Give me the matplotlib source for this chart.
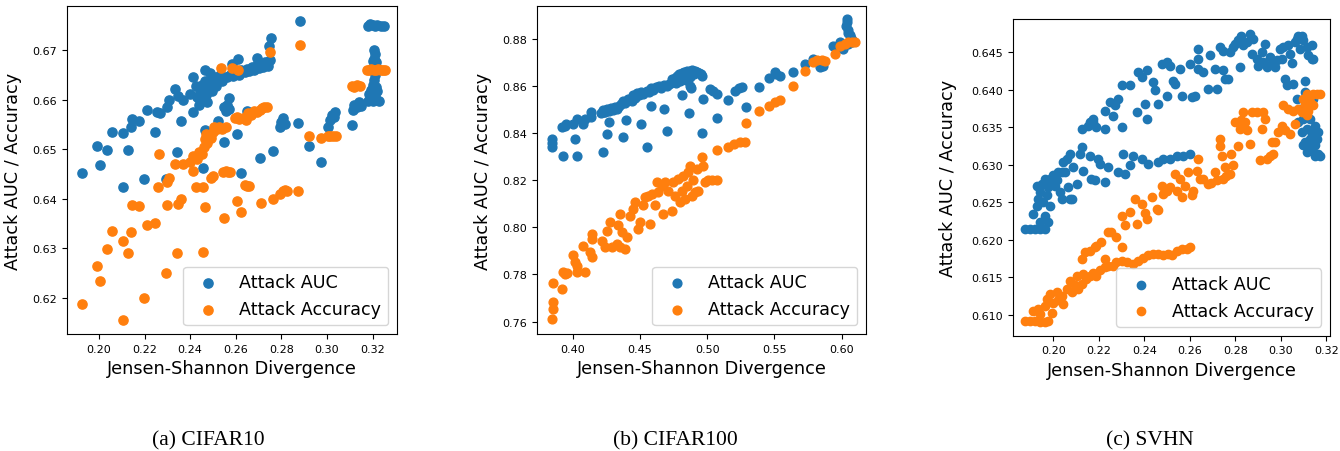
import numpy as np
import matplotlib.pyplot as plt
from matplotlib.ticker import FormatStrFormatter

# =========================================
# DATA
# =========================================
# (a) CIFAR10
cifar10_js_auc = [
    0.1924, 0.1991, 0.2006, 0.2034, 0.2056, 0.2104, 0.2107, 0.2126, 0.2139, 0.2145,
    0.2177, 0.2197, 0.2209, 0.2246, 0.2256, 0.2266, 0.2294, 0.2297, 0.2306, 0.2332,
    0.2341, 0.2348, 0.2361, 0.2370, 0.2398, 0.2411, 0.2414, 0.2425, 0.2430, 0.2440,
    0.2445, 0.2450, 0.2455, 0.2460, 0.2465, 0.2470, 0.2475, 0.2480, 0.2490, 0.2495,
    0.2500, 0.2505, 0.2515, 0.2520, 0.2530, 0.2540, 0.2550, 0.2455, 0.2466, 0.2466,
    0.2487, 0.2523, 0.2550, 0.2548, 0.2555, 0.2562, 0.2570, 0.2572, 0.2582, 0.2607,
    0.2611, 0.2623, 0.2648, 0.2560, 0.2575, 0.2590, 0.2600, 0.2615, 0.2625, 0.2640,
    0.2650, 0.2660, 0.2670, 0.2680, 0.2690, 0.2700, 0.2710, 0.2720, 0.2730, 0.2740,
    0.2750, 0.2692, 0.2707, 0.2744, 0.2753, 0.2762, 0.2795, 0.2800, 0.2808, 0.2815,
    0.2871, 0.2881, 0.2920, 0.2972, 0.3006, 0.3015, 0.3022, 0.3030, 0.3035, 0.3111,
    0.3115, 0.3120, 0.3130, 0.3140, 0.3148, 0.3180, 0.3190, 0.3200, 0.3210, 0.3220,
    0.3235, 0.3250, 0.3205, 0.3210, 0.3208, 0.3200, 0.3215, 0.3205, 0.3210, 0.3208,
    0.3200, 0.3215, 0.3195, 0.3220, 0.3185, 0.3210, 0.3180, 0.3200, 0.3215, 0.3230,
]
cifar10_auc = [
    0.6451, 0.6507, 0.6469, 0.6498, 0.6535, 0.6424, 0.6533, 0.6499, 0.6545, 0.6561,
    0.6556, 0.6439, 0.6580, 0.6534, 0.6575, 0.6574, 0.6439, 0.6586, 0.6599, 0.6621,
    0.6495, 0.6608, 0.6557, 0.6599, 0.6611, 0.6575, 0.6645, 0.6627, 0.6605, 0.6590,
    0.6615, 0.6630, 0.6600, 0.6620, 0.6638, 0.6610, 0.6595, 0.6625, 0.6640, 0.6618,
    0.6632, 0.6645, 0.6628, 0.6640, 0.6650, 0.6638, 0.6645, 0.6463, 0.6539, 0.6660,
    0.6654, 0.6556, 0.6515, 0.6585, 0.6578, 0.6590, 0.6582, 0.6603, 0.6672, 0.6530,
    0.6682, 0.6451, 0.6578, 0.6645, 0.6650, 0.6648, 0.6655, 0.6650, 0.6660, 0.6655,
    0.6662, 0.6658, 0.6665, 0.6660, 0.6668, 0.6664, 0.6670, 0.6665, 0.6675, 0.6668,
    0.6680, 0.6685, 0.6482, 0.6709, 0.6724, 0.6497, 0.6545, 0.6555, 0.6562, 0.6550,
    0.6553, 0.6759, 0.6507, 0.6475, 0.6544, 0.6558, 0.6570, 0.6565, 0.6575, 0.6549,
    0.6580, 0.6590, 0.6585, 0.6595, 0.6588, 0.6749, 0.6752, 0.6750, 0.6749, 0.6751,
    0.6749, 0.6749, 0.6700, 0.6692, 0.6683, 0.6678, 0.6675, 0.6665, 0.6650, 0.6640,
    0.6630, 0.6625, 0.6620, 0.6618, 0.6612, 0.6608, 0.6598, 0.6597, 0.6600, 0.6598,
]
cifar10_js_acc = [
    0.1924, 0.1991, 0.2006, 0.2034, 0.2056, 0.2104, 0.2107, 0.2126, 0.2139, 0.2145,
    0.2177, 0.2197, 0.2209, 0.2246, 0.2258, 0.2265, 0.2294, 0.2299, 0.2306, 0.2300,
    0.2332, 0.2341, 0.2348, 0.2359, 0.2370, 0.2398, 0.2411, 0.2414, 0.2425, 0.2455,
    0.2458, 0.2466, 0.2430, 0.2440, 0.2450, 0.2460, 0.2465, 0.2475, 0.2480, 0.2490,
    0.2470, 0.2500, 0.2490, 0.2500, 0.2505, 0.2516, 0.2525, 0.2540, 0.2555, 0.2537,
    0.2545, 0.2555, 0.2565, 0.2575, 0.2550, 0.2582, 0.2595, 0.2605, 0.2615, 0.2630,
    0.2645, 0.2604, 0.2611, 0.2623, 0.2640, 0.2650, 0.2660, 0.2655, 0.2665, 0.2680,
    0.2695, 0.2705, 0.2715, 0.2725, 0.2735, 0.2711, 0.2748, 0.2762, 0.2795, 0.2805,
    0.2815, 0.2825, 0.2871, 0.2881, 0.2920, 0.2972, 0.3006, 0.3015, 0.3025, 0.3040,
    0.3110, 0.3120, 0.3130, 0.3145, 0.3175, 0.3185, 0.3195, 0.3205, 0.3215, 0.3225,
    0.3235, 0.3245, 0.3255,
]
cifar10_acc = [
    0.6187, 0.6264, 0.6234, 0.6298, 0.6335, 0.6314, 0.6155, 0.6291, 0.6332, 0.6387,
    0.6386, 0.6199, 0.6346, 0.6351, 0.6424, 0.6491, 0.6250, 0.6434, 0.6442, 0.6387,
    0.6471, 0.6291, 0.6390, 0.6400, 0.6471, 0.6475, 0.6456, 0.6487, 0.6424, 0.6292,
    0.6424, 0.6383, 0.6480, 0.6495, 0.6490, 0.6505, 0.6520, 0.6512, 0.6525, 0.6522,
    0.6530, 0.6535, 0.6442, 0.6445, 0.6545, 0.6540, 0.6545, 0.6540, 0.6545, 0.6663,
    0.6453, 0.6455, 0.6454, 0.6453, 0.6362, 0.6663, 0.6562, 0.6565, 0.6560, 0.6563,
    0.6558, 0.6396, 0.6660, 0.6374, 0.6427, 0.6425, 0.6426, 0.6573, 0.6570, 0.6578,
    0.6575, 0.6580, 0.6583, 0.6585, 0.6586, 0.6392, 0.6697, 0.6399, 0.6410, 0.6416,
    0.6418, 0.6415, 0.6416, 0.6710, 0.6526, 0.6522, 0.6527, 0.6526, 0.6527, 0.6527,
    0.6628, 0.6625, 0.6630, 0.6627, 0.6660, 0.6660, 0.6661, 0.6660, 0.6660, 0.6661,
    0.6660, 0.6660, 0.6660,
]

# (b) CIFAR100
cifar100_js_auc = [
    0.3844, 0.3846, 0.3845, 0.3918, 0.3931, 0.3943, 0.3950, 0.4005, 0.4017, 0.4030,
    0.4035, 0.4080, 0.4090, 0.4140, 0.4140, 0.4228, 0.4253, 0.4270, 0.4233, 0.4210,
    0.4225, 0.4240, 0.4255, 0.4270, 0.4285, 0.4300, 0.4315, 0.4330, 0.4345, 0.4360,
    0.4375, 0.4390, 0.4377, 0.4396, 0.4410, 0.4440, 0.4450, 0.4460, 0.4475, 0.4490,
    0.4505, 0.4520, 0.4508, 0.4550, 0.4582, 0.4680, 0.4700, 0.4550, 0.4570, 0.4585,
    0.4600, 0.4620, 0.4640, 0.4660, 0.4680, 0.4700, 0.4715, 0.4730, 0.4740, 0.4750,
    0.4760, 0.4770, 0.4775, 0.4785, 0.4790, 0.4800, 0.4805, 0.4815, 0.4820, 0.4830,
    0.4835, 0.4845, 0.4850, 0.4860, 0.4870, 0.4875, 0.4885, 0.4890, 0.4900, 0.4910,
    0.4925, 0.4940, 0.4955, 0.4965, 0.4870, 0.4880, 0.4810, 0.4865, 0.4960, 0.4971,
    0.5020, 0.5045, 0.5070, 0.5071, 0.5157, 0.5207, 0.5235, 0.5256, 0.5286, 0.5383,
    0.5460, 0.5504, 0.5515, 0.5541, 0.5640, 0.5727, 0.5789, 0.5838, 0.5863, 0.5938,
    0.5988, 0.6012, 0.6040, 0.6040, 0.6035, 0.6045, 0.6050, 0.6060, 0.6070, 0.6075,
    0.6060, 0.6050, 0.6080,
]
cifar100_auc = [
    0.8375, 0.8360, 0.8342, 0.8425, 0.8305, 0.8429, 0.8440, 0.8439, 0.8375, 0.8305,
    0.8460, 0.8439, 0.8460, 0.8489, 0.8467, 0.8319, 0.8397, 0.8446, 0.8489, 0.8485,
    0.8500, 0.8490, 0.8502, 0.8495, 0.8505, 0.8498, 0.8510, 0.8502, 0.8515, 0.8525,
    0.8535, 0.8530, 0.8382, 0.8457, 0.8545, 0.8535, 0.8560, 0.8550, 0.8570, 0.8560,
    0.8575, 0.8565, 0.8439, 0.8340, 0.8517, 0.8503, 0.8408, 0.8580, 0.8575, 0.8590,
    0.8585, 0.8595, 0.8600, 0.8590, 0.8605, 0.8600, 0.8610, 0.8615, 0.8628, 0.8620,
    0.8635, 0.8612, 0.8642, 0.8630, 0.8650, 0.8622, 0.8640, 0.8655, 0.8632, 0.8660,
    0.8645, 0.8625, 0.8665, 0.8650, 0.8640, 0.8662, 0.8655, 0.8670, 0.8650, 0.8665,
    0.8660, 0.8655, 0.8650, 0.8642, 0.8600, 0.8590, 0.8562, 0.8486, 0.8399, 0.8545,
    0.8588, 0.8580, 0.8566, 0.8463, 0.8542, 0.8581, 0.8590, 0.8595, 0.8513, 0.8595,
    0.8636, 0.8658, 0.8650, 0.8641, 0.8658, 0.8694, 0.8715, 0.8683, 0.8687, 0.8772,
    0.8786, 0.8758, 0.8885, 0.8870, 0.8855, 0.8840, 0.8825, 0.8815, 0.8805, 0.8795,
    0.8790, 0.8780, 0.8785,
]
cifar100_js_acc = [
    0.3844, 0.3851, 0.3851, 0.3851, 0.3918, 0.3925, 0.3940, 0.3955, 0.4005, 0.4017,
    0.4030, 0.4030, 0.4080, 0.4090, 0.4129, 0.4146, 0.4146, 0.4146, 0.4216, 0.4240,
    0.4253, 0.4278, 0.4290, 0.4327, 0.4339, 0.4352, 0.4352, 0.4364, 0.4389, 0.4401,
    0.4426, 0.4451, 0.4463, 0.4488, 0.4501, 0.4525, 0.4538, 0.4562, 0.4575, 0.4587,
    0.4612, 0.4624, 0.4637, 0.4662, 0.4674, 0.4686, 0.4711, 0.4736, 0.4748, 0.4761,
    0.4785, 0.4798, 0.4810, 0.4823, 0.4835, 0.4847, 0.4860, 0.4872, 0.4885, 0.4897,
    0.4909, 0.4922, 0.4934, 0.4959, 0.4971, 0.4984, 0.5008, 0.5033, 0.5070, 0.5071,
    0.5157, 0.5199, 0.5244, 0.5281, 0.5286, 0.5383, 0.5460, 0.5504, 0.5541, 0.5640,
    0.5727, 0.5789, 0.5819, 0.5851, 0.5876, 0.5950, 0.5987, 0.6024, 0.6049, 0.6074,
    0.6099,
]
cifar100_acc = [
    0.7611, 0.7653, 0.7682, 0.7764, 0.7738, 0.7809, 0.7800, 0.7805, 0.7883, 0.7852,
    0.7809, 0.7837, 0.7922, 0.7809, 0.7894, 0.7873, 0.7972, 0.7951, 0.7944, 0.7916,
    0.7986, 0.8022, 0.7916, 0.7930, 0.8008, 0.8057, 0.7916, 0.7979, 0.7909, 0.7958,
    0.8050, 0.8078, 0.8107, 0.7993, 0.8022, 0.8093, 0.8128, 0.8135, 0.8015, 0.8142,
    0.8093, 0.8192, 0.8149, 0.8177, 0.8057, 0.8192, 0.8156, 0.8071, 0.8192, 0.8135,
    0.8206, 0.8107, 0.8156, 0.8220, 0.8121, 0.8177, 0.8234, 0.8262, 0.8135, 0.8199,
    0.8149, 0.8248, 0.8156, 0.8300, 0.8262, 0.8192, 0.8199, 0.8201, 0.8201, 0.8329,
    0.8340, 0.8354, 0.8361, 0.8364, 0.8442, 0.8493, 0.8517, 0.8531, 0.8542, 0.8602,
    0.8663, 0.8701, 0.8711, 0.8711, 0.8708, 0.8736, 0.8772, 0.8779, 0.8786, 0.8786,
    0.8789,
]

# (c) SVHN
svhn_js_auc = [
    0.1875, 0.1897, 0.1919, 0.1941, 0.1963, 0.1912, 0.1927, 0.1934, 0.1941, 0.1927,
    0.1949, 0.1963, 0.1956, 0.1971, 0.1978, 0.1985, 0.2000, 0.2007, 0.2015, 0.2029,
    0.2037, 0.1963, 0.1941, 0.1978, 0.1985, 0.2022, 0.2037, 0.2051, 0.2073, 0.2081,
    0.2066, 0.2044, 0.2059, 0.2073, 0.2088, 0.2103, 0.2125, 0.2117, 0.2125, 0.2154,
    0.2161, 0.2176, 0.2132, 0.2161, 0.2168, 0.2176, 0.2190, 0.2183, 0.2198, 0.2205,
    0.2227, 0.2227, 0.2242, 0.2227, 0.2264, 0.2249, 0.2271, 0.2286, 0.2300, 0.2286,
    0.2300, 0.2308, 0.2315, 0.2337, 0.2337, 0.2352, 0.2366, 0.2374, 0.2388, 0.2403,
    0.2410, 0.2410, 0.2388, 0.2418, 0.2439, 0.2447, 0.2461, 0.2476, 0.2498, 0.2461,
    0.2483, 0.2513, 0.2542, 0.2571, 0.2600, 0.2498, 0.2513, 0.2527, 0.2535, 0.2557,
    0.2564, 0.2600, 0.2608, 0.2623, 0.2637, 0.2637, 0.2637, 0.2659, 0.2681, 0.2688,
    0.2710, 0.2718, 0.2732, 0.2747, 0.2747, 0.2754, 0.2769, 0.2776, 0.2791, 0.2798,
    0.2813, 0.2820, 0.2827, 0.2835, 0.2850, 0.2864, 0.2879, 0.2872, 0.2894, 0.2901,
    0.2916, 0.2930, 0.2923, 0.2938, 0.2952, 0.2960, 0.2974, 0.2981, 0.2996, 0.3003,
    0.3010, 0.3018, 0.3025, 0.3032, 0.3040, 0.3047, 0.3054, 0.3062, 0.3069, 0.3076,
    0.3084, 0.3091, 0.3098, 0.3106, 0.3113, 0.3120, 0.3135, 0.3135, 0.3142, 0.3069,
    0.3084, 0.3098, 0.3113, 0.3128, 0.3135, 0.3150, 0.3165, 0.3106, 0.3120, 0.3091,
    0.3106, 0.3128, 0.3150, 0.3157, 0.3076, 0.3142, 0.3165, 0.3113, 0.3098, 0.3120,
    0.3135, 0.3150, 0.3172,
]
svhn_auc = [
    0.6214, 0.6214, 0.6214, 0.6214, 0.6214, 0.6234, 0.6245, 0.6254, 0.6263, 0.6272,
    0.6274, 0.6281, 0.6250, 0.6259, 0.6270, 0.6281, 0.6286, 0.6272, 0.6279, 0.6263,
    0.6254, 0.6232, 0.6223, 0.6223, 0.6245, 0.6290, 0.6290, 0.6290, 0.6254, 0.6254,
    0.6270, 0.6303, 0.6308, 0.6314, 0.6297, 0.6274, 0.6348, 0.6314, 0.6323, 0.6352,
    0.6357, 0.6361, 0.6292, 0.6312, 0.6281, 0.6357, 0.6350, 0.6279, 0.6308, 0.6301,
    0.6348, 0.6372, 0.6297, 0.6277, 0.6365, 0.6383, 0.6379, 0.6290, 0.6350, 0.6388,
    0.6406, 0.6314, 0.6288, 0.6406, 0.6299, 0.6312, 0.6370, 0.6423, 0.6417, 0.6381,
    0.6426, 0.6361, 0.6308, 0.6301, 0.6410, 0.6399, 0.6381, 0.6434, 0.6437, 0.6303,
    0.6308, 0.6308, 0.6312, 0.6312, 0.6314, 0.6392, 0.6432, 0.6412, 0.6408, 0.6428,
    0.6392, 0.6434, 0.6390, 0.6392, 0.6454, 0.6441, 0.6428, 0.6423, 0.6401, 0.6446,
    0.6428, 0.6401, 0.6457, 0.6452, 0.6426, 0.6414, 0.6414, 0.6450, 0.6457, 0.6461,
    0.6466, 0.6430, 0.6472, 0.6459, 0.6463, 0.6474, 0.6468, 0.6448, 0.6441, 0.6432,
    0.6450, 0.6461, 0.6437, 0.6430, 0.6443, 0.6435, 0.6430, 0.6439, 0.6454, 0.6441,
    0.6457, 0.6414, 0.6406, 0.6459, 0.6448, 0.6435, 0.6408, 0.6463, 0.6468, 0.6472,
    0.6454, 0.6472, 0.6466, 0.6412, 0.6457, 0.6446, 0.6441, 0.6459, 0.6441, 0.6388,
    0.6374, 0.6361, 0.6348, 0.6334, 0.6321, 0.6312, 0.6314, 0.6397, 0.6383, 0.6343,
    0.6330, 0.6361, 0.6352, 0.6334, 0.6357, 0.6388, 0.6343, 0.6317, 0.6326, 0.6323,
    0.6341, 0.6326, 0.6312,
]
svhn_js_acc = [
    0.1875, 0.1897, 0.1919, 0.1941, 0.1963, 0.1978, 0.1912, 0.1934, 0.1941, 0.1963,
    0.1971, 0.1985, 0.1993, 0.2000, 0.2015, 0.2022, 0.2037, 0.2044, 0.2059, 0.2073,
    0.2081, 0.2095, 0.2103, 0.2110, 0.2125, 0.2132, 0.2146, 0.2161, 0.2176, 0.2190,
    0.2205, 0.2227, 0.2242, 0.2264, 0.2278, 0.2300, 0.2322, 0.2352, 0.2374, 0.2395,
    0.2418, 0.2439, 0.2461, 0.2483, 0.2505, 0.2520, 0.2542, 0.2564, 0.2586, 0.2601,
    0.2125, 0.2139, 0.2161, 0.2183, 0.2190, 0.2212, 0.2227, 0.2242, 0.2256, 0.2278,
    0.2300, 0.2300, 0.2315, 0.2337, 0.2359, 0.2366, 0.2388, 0.2403, 0.2410, 0.2432,
    0.2454, 0.2461, 0.2476, 0.2483, 0.2498, 0.2513, 0.2535, 0.2542, 0.2557, 0.2564,
    0.2578, 0.2593, 0.2608, 0.2615, 0.2630, 0.2637, 0.2644, 0.2659, 0.2681, 0.2695,
    0.2710, 0.2718, 0.2732, 0.2732, 0.2740, 0.2747, 0.2754, 0.2761, 0.2776, 0.2783,
    0.2791, 0.2798, 0.2813, 0.2820, 0.2827, 0.2835, 0.2842, 0.2850, 0.2864, 0.2872,
    0.2894, 0.2908, 0.2916, 0.2923, 0.2930, 0.2938, 0.2952, 0.2960, 0.2967, 0.2974,
    0.2989, 0.3003, 0.3010, 0.3018, 0.3032, 0.3040, 0.3054, 0.3062, 0.3076, 0.3091,
    0.3106, 0.3113, 0.3098, 0.3113, 0.3128, 0.3142, 0.3157, 0.3172, 0.3128, 0.3142,
    0.3120,
]
svhn_acc = [
    0.6092, 0.6092, 0.6092, 0.6090, 0.6090, 0.6092, 0.6105, 0.6107, 0.6101, 0.6112,
    0.6121, 0.6128, 0.6102, 0.6116, 0.6130, 0.6119, 0.6125, 0.6114, 0.6134, 0.6145,
    0.6130, 0.6139, 0.6152, 0.6134, 0.6141, 0.6154, 0.6147, 0.6152, 0.6156, 0.6152,
    0.6159, 0.6163, 0.6165, 0.6165, 0.6170, 0.6172, 0.6170, 0.6167, 0.6172, 0.6176,
    0.6179, 0.6181, 0.6181, 0.6179, 0.6181, 0.6179, 0.6185, 0.6188, 0.6188, 0.6190,
    0.6174, 0.6183, 0.6185, 0.6190, 0.6192, 0.6197, 0.6174, 0.6210, 0.6210, 0.6203,
    0.6190, 0.6232, 0.6219, 0.6237, 0.6254, 0.6221, 0.6248, 0.6235, 0.6228, 0.6257,
    0.6241, 0.6239, 0.6272, 0.6261, 0.6265, 0.6270, 0.6288, 0.6265, 0.6281, 0.6257,
    0.6272, 0.6290, 0.6259, 0.6265, 0.6292, 0.6308, 0.6281, 0.6281, 0.6274, 0.6276,
    0.6290, 0.6279, 0.6334, 0.6325, 0.6312, 0.6281, 0.6297, 0.6285, 0.6288, 0.6314,
    0.6299, 0.6357, 0.6325, 0.6348, 0.6359, 0.6370, 0.6357, 0.6346, 0.6328, 0.6370,
    0.6370, 0.6306, 0.6348, 0.6370, 0.6361, 0.6308, 0.6312, 0.6330, 0.6314, 0.6330,
    0.6343, 0.6352, 0.6379, 0.6346, 0.6374, 0.6341, 0.6372, 0.6354, 0.6374, 0.6370,
    0.6379, 0.6366, 0.6388, 0.6394, 0.6392, 0.6394, 0.6394, 0.6394, 0.6383, 0.6379,
    0.6372,
]

captions = ["(a) CIFAR10", "(b) CIFAR100", "(c) SVHN"]

# =========================================
# FIGURE
# =========================================
plt.rcParams["font.family"] = "DejaVu Sans"

fig = plt.figure(figsize=(13.4, 4.52), dpi=100)

panels = [
    dict(rect=[67 / 1340, 117 / 452, 330 / 1340, 328 / 452],
         js_auc=cifar10_js_auc, auc=cifar10_auc, js_acc=cifar10_js_acc, acc=cifar10_acc,
         xlim=(0.1860, 0.3307), ylim=(0.6127, 0.6789),
         xticks=np.arange(0.20, 0.321, 0.02), yticks=np.arange(0.62, 0.671, 0.01),
         xfmt="%.2f", yfmt="%.2f", s=44, ylab_x=-0.136),
    dict(rect=[537 / 1340, 117 / 452, 329 / 1340, 328 / 452],
         js_auc=cifar100_js_auc, auc=cifar100_auc, js_acc=cifar100_js_acc, acc=cifar100_acc,
         xlim=(0.3735, 0.6181), ylim=(0.7547, 0.8940),
         xticks=np.arange(0.40, 0.601, 0.05), yticks=np.arange(0.76, 0.881, 0.02),
         xfmt="%.2f", yfmt="%.2f", s=40, ylab_x=-0.138),
    dict(rect=[1012.7 / 1340, 115.3 / 452, 317.3 / 1340, 316.7 / 452],
         js_auc=svhn_js_auc, auc=svhn_auc, js_acc=svhn_js_acc, acc=svhn_acc,
         xlim=(0.1822, 0.3216), ylim=(0.6072, 0.6494),
         xticks=np.arange(0.20, 0.321, 0.02), yticks=np.arange(0.610, 0.6451, 0.005),
         xfmt="%.2f", yfmt="%.3f", s=36, ylab_x=-0.176),
]

for p in panels:
    ax = fig.add_axes(p["rect"])
    ax.scatter(p["js_auc"], p["auc"], s=p["s"], color="#1f77b4", label="Attack AUC")
    ax.scatter(p["js_acc"], p["acc"], s=p["s"], color="#ff7f0e", label="Attack Accuracy")
    ax.set_xlim(*p["xlim"])
    ax.set_ylim(*p["ylim"])
    ax.set_xticks(p["xticks"])
    ax.set_yticks(p["yticks"])
    ax.xaxis.set_major_formatter(FormatStrFormatter(p["xfmt"]))
    ax.yaxis.set_major_formatter(FormatStrFormatter(p["yfmt"]))
    ax.tick_params(labelsize=8)
    ax.set_xlabel("Jensen-Shannon Divergence", fontsize=12.7)
    ax.set_ylabel("Attack AUC / Accuracy", fontsize=12.7)
    ax.yaxis.set_label_coords(p["ylab_x"], 0.5)
    ax.legend(loc="lower right", fontsize=12.6, borderaxespad=0.5)

caption_x = [208, 675, 1150]
for cx, cap in zip(caption_x, captions):
    fig.text(cx / 1340, (452 - 441) / 452, cap, ha="center", va="center",
             fontsize=15.5, family="Liberation Serif")

plt.savefig("out.png", dpi=100)
plt.close()
